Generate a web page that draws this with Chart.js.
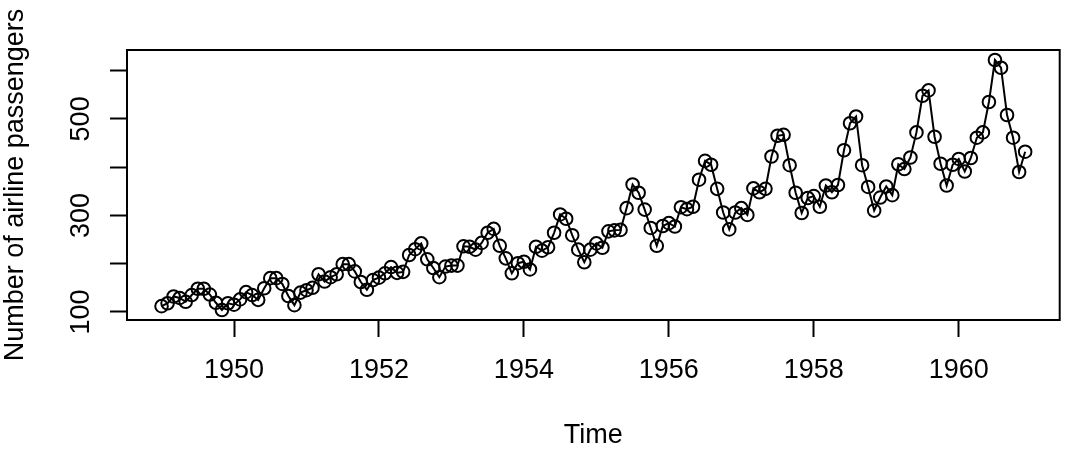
<!DOCTYPE html>
<html>
<head>
<meta charset="utf-8">
<script src="https://cdn.jsdelivr.net/npm/chart.js@4/dist/chart.umd.min.js"></script>
<style>
  body { margin: 0; background: #fff; }
</style>
</head>
<body>
<canvas id="passengersChart" width="1068" height="456"></canvas>
<script>
// monthly totals, Jan 1949 .. Dec 1960
const years = [1949, 1950, 1951, 1952, 1953, 1954, 1955, 1956, 1957, 1958, 1959, 1960];
const passengers = [
    112, 118, 132, 129, 121, 135, 148, 148, 136, 119, 104, 118,
    115, 126, 141, 135, 125, 149, 170, 170, 158, 133, 114, 140,
    145, 150, 178, 163, 172, 178, 199, 199, 184, 162, 146, 166,
    171, 180, 193, 181, 183, 218, 230, 242, 209, 191, 172, 194,
    196, 196, 236, 235, 229, 243, 264, 272, 237, 211, 180, 201,
    204, 188, 235, 227, 234, 264, 302, 293, 259, 229, 203, 229,
    242, 233, 267, 269, 270, 315, 364, 347, 312, 274, 237, 278,
    284, 277, 317, 313, 318, 374, 413, 405, 355, 306, 271, 306,
    315, 301, 356, 348, 355, 422, 465, 467, 404, 347, 305, 336,
    340, 318, 362, 348, 363, 435, 491, 505, 404, 359, 310, 337,
    360, 342, 406, 396, 420, 472, 548, 559, 463, 407, 362, 405,
    417, 391, 419, 461, 472, 535, 622, 606, 508, 461, 390, 432
];
const xTicks = [1950, 1952, 1954, 1956, 1958, 1960];
const yTicks = [100, 200, 300, 400, 500, 600];
const yTickLabels = ["100", "", "300", "", "500", ""];

const points = passengers.map((v, i) => ({ x: years[0] + i / 12, y: v }));

// R style 4% padding around the data range
const xFirst = years[0], xLast = years[0] + (passengers.length - 1) / 12;
const xPad = (xLast - xFirst) * 0.04;
const yMin = Math.min(...passengers), yMax = Math.max(...passengers);
const yPad = (yMax - yMin) * 0.04;

const font = { family: "'Liberation Sans', Arial, sans-serif", size: 27, lineHeight: 1.2 };
const titleFont = { family: "'Liberation Sans', Arial, sans-serif", size: 27, lineHeight: 1 };
const lw = 2;

const boxPlugin = {
    id: "box",
    afterDatasetsDraw(chart) {
        const { ctx, chartArea: a } = chart;
        ctx.save();
        ctx.strokeStyle = "#000";
        ctx.lineWidth = lw;
        ctx.strokeRect(a.left, a.top, a.right - a.left, a.bottom - a.top);
        ctx.restore();
    }
};

Chart.defaults.color = "#000";

new Chart(document.getElementById("passengersChart"), {
    type: "line",
    data: {
        datasets: [{
            data: points,
            borderColor: "#000",
            borderWidth: lw,
            pointRadius: 6.3,
            pointBorderWidth: lw,
            pointBorderColor: "#000",
            pointBackgroundColor: "rgba(0,0,0,0)",
            tension: 0
        }]
    },
    options: {
        responsive: false,
        animation: false,
        layout: { padding: { top: 50, right: 6, left: 0, bottom: 0 } },
        plugins: { legend: { display: false }, tooltip: { enabled: false } },
        scales: {
            x: {
                type: "linear",
                min: xFirst - xPad,
                max: xLast + xPad,
                afterBuildTicks: s => { s.ticks = xTicks.map(v => ({ value: v })); },
                afterFit: s => { s.height = 136; },
                ticks: { font: font, padding: 17, maxRotation: 0, callback: v => String(v) },
                grid: { drawOnChartArea: false, drawTicks: true, tickLength: 17, tickColor: "#000", tickWidth: lw },
                border: { color: "#000", width: lw },
                title: { display: true, text: "Time", font: titleFont, padding: { top: 0, bottom: 6.5 } }
            },
            y: {
                type: "linear",
                min: yMin - yPad,
                max: yMax + yPad,
                afterBuildTicks: s => { s.ticks = yTicks.map(v => ({ value: v })); },
                afterFit: s => { s.width = 127; },
                ticks: {
                    font: font, padding: 6, minRotation: 90, maxRotation: 90, crossAlign: "center",
                    callback: (v) => yTickLabels[yTicks.indexOf(v)]
                },
                grid: { drawOnChartArea: false, drawTicks: true, tickLength: 17, tickColor: "#000", tickWidth: lw },
                border: { color: "#000", width: lw },
                title: { display: true, text: "Number of airline passengers", font: titleFont, padding: { top: 2, bottom: 0 } }
            }
        }
    },
    plugins: [boxPlugin]
});
</script>
</body>
</html>
